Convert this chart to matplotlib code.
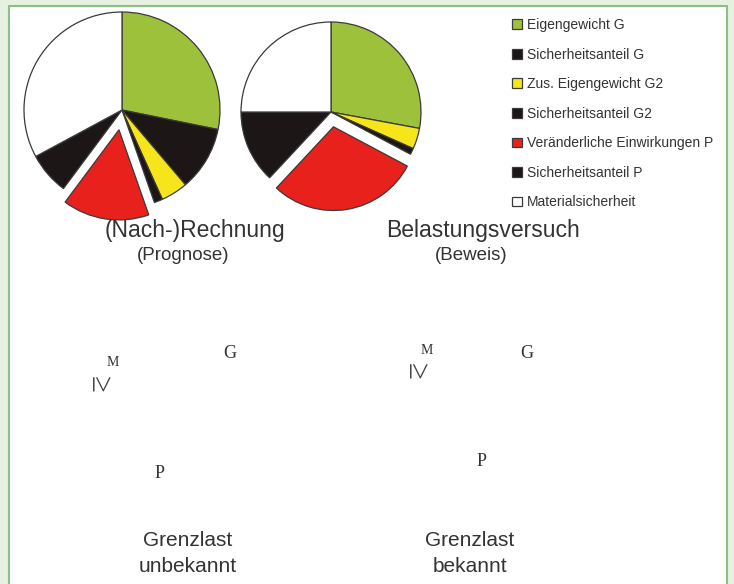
##
# Rechnung vs. Belastungsversuch - Kreisdiagramme
##
import matplotlib
matplotlib.use("Agg")
import matplotlib.pyplot as plt
from matplotlib.patches import Rectangle

# ============================================
# Daten (Winkelanteile in Grad)
# ============================================
labels = ["Eigengewicht G", "Sicherheitsanteil G", "Zus. Eigengewicht G2",
          "Sicherheitsanteil G2", "Veränderliche Einwirkungen P",
          "Sicherheitsanteil P", "Materialsicherheit"]
colors = ["#9dc13b", "#1c1616", "#f7e51c", "#1c1616", "#e8211d", "#1c1616", "#ffffff"]

rechnung = [101.5, 38.2, 16.0, 5.0, 56.0, 25.0, 118.3]
versuch = [100.5, 0.0, 13.5, 4.0, 105.0, 47.0, 90.0]

titles = [("(Nach-)Rechnung", "(Prognose)"), ("Belastungsversuch", "(Beweis)")]
bottom_texts = [("Grenzlast", "unbekannt"), ("Grenzlast", "bekannt")]

W, H = 734, 584
plt.rcParams["font.family"] = ["Liberation Sans", "DejaVu Sans"]


def py(y):
    # Pixel von oben -> Datenkoordinate
    return H - y


def draw_pie(ax, values, cx, cy, r, expl, red_scale):
    vals = [v for v in values if v > 0]
    cols = [c for v, c in zip(values, colors) if v > 0]
    labs = [l for v, l in zip(values, labels) if v > 0]
    # explode ist hier in Datenkoordinaten (Pixel)
    explode = [expl if l.startswith("Veränderliche") else 0 for l in labs]
    wedges, _ = ax.pie(vals, colors=cols, explode=explode, startangle=90,
                       counterclock=False, radius=r, center=(cx, py(cy)),
                       wedgeprops=dict(edgecolor="#3a3a3a", linewidth=0.9))
    for w, l in zip(wedges, labs):
        if l.startswith("Veränderliche"):
            w.set_radius(r * red_scale)
    return wedges


fig = plt.figure(figsize=(W / 100, H / 100), dpi=100)
fig.patch.set_facecolor("#e6f1df")
ax = fig.add_axes([0, 0, 1, 1])

# weisses Feld mit gruenem Rand
ax.add_patch(Rectangle((9, -20), 718, py(6) + 20, facecolor="white",
                       edgecolor="#8cbf85", linewidth=1.5, zorder=0))

wl = draw_pie(ax, rechnung, 122, 110, 98, 20, 0.92)
draw_pie(ax, versuch, 331, 112, 90, 15, 0.93)

ax.set_xlim(0, W)
ax.set_ylim(0, H)
ax.set_aspect("equal")
ax.axis("off")

leg = ax.legend(wl, labels, loc="upper left", bbox_to_anchor=(512 / W, 1 - 18 / H),
                frameon=False, fontsize=10, handlelength=0.7, handleheight=0.7,
                handletextpad=0.35, labelspacing=1.12, borderpad=0, borderaxespad=0)
for t in leg.get_texts():
    t.set_color("#333333")

# Ueberschriften
ax.text(195, py(230), titles[0][0], ha="center", va="center", fontsize=16.5, color="#333333")
ax.text(183, py(255), titles[0][1], ha="center", va="center", fontsize=13.5, color="#333333")
ax.text(483, py(230), titles[1][0], ha="center", va="center", fontsize=16.5, color="#333333")
ax.text(471, py(255), titles[1][1], ha="center", va="center", fontsize=13.5, color="#333333")

# Formelzeichen
serif = ["Liberation Serif", "DejaVu Serif"]
for (mx, my, gx, gy, gex, gey, px_, py_) in [(113, 362, 98, 384, 230, 353, 160, 474),
                                            (427, 350, 415, 371, 527, 353, 482, 462)]:
    ax.text(mx, py(my), "M", family=serif, fontsize=10, ha="center", va="center", color="#333333")
    ax.text(gx, py(gy), "≥", family=serif, fontsize=22, ha="center", va="center",
            rotation=270, color="#444444")
    ax.text(gex, py(gey), "G", family=serif, fontsize=13, ha="center", va="center", color="#333333")
    ax.text(px_, py(py_), "P", family=serif, fontsize=13, ha="center", va="center", color="#333333")

# untere Texte
for x, (a, b) in zip([188, 470], bottom_texts):
    ax.text(x, py(541), a, ha="center", va="center", fontsize=15, color="#333333")
    ax.text(x, py(566), b, ha="center", va="center", fontsize=15, color="#333333")

fig.savefig("out.png", dpi=100, facecolor=fig.get_facecolor())
